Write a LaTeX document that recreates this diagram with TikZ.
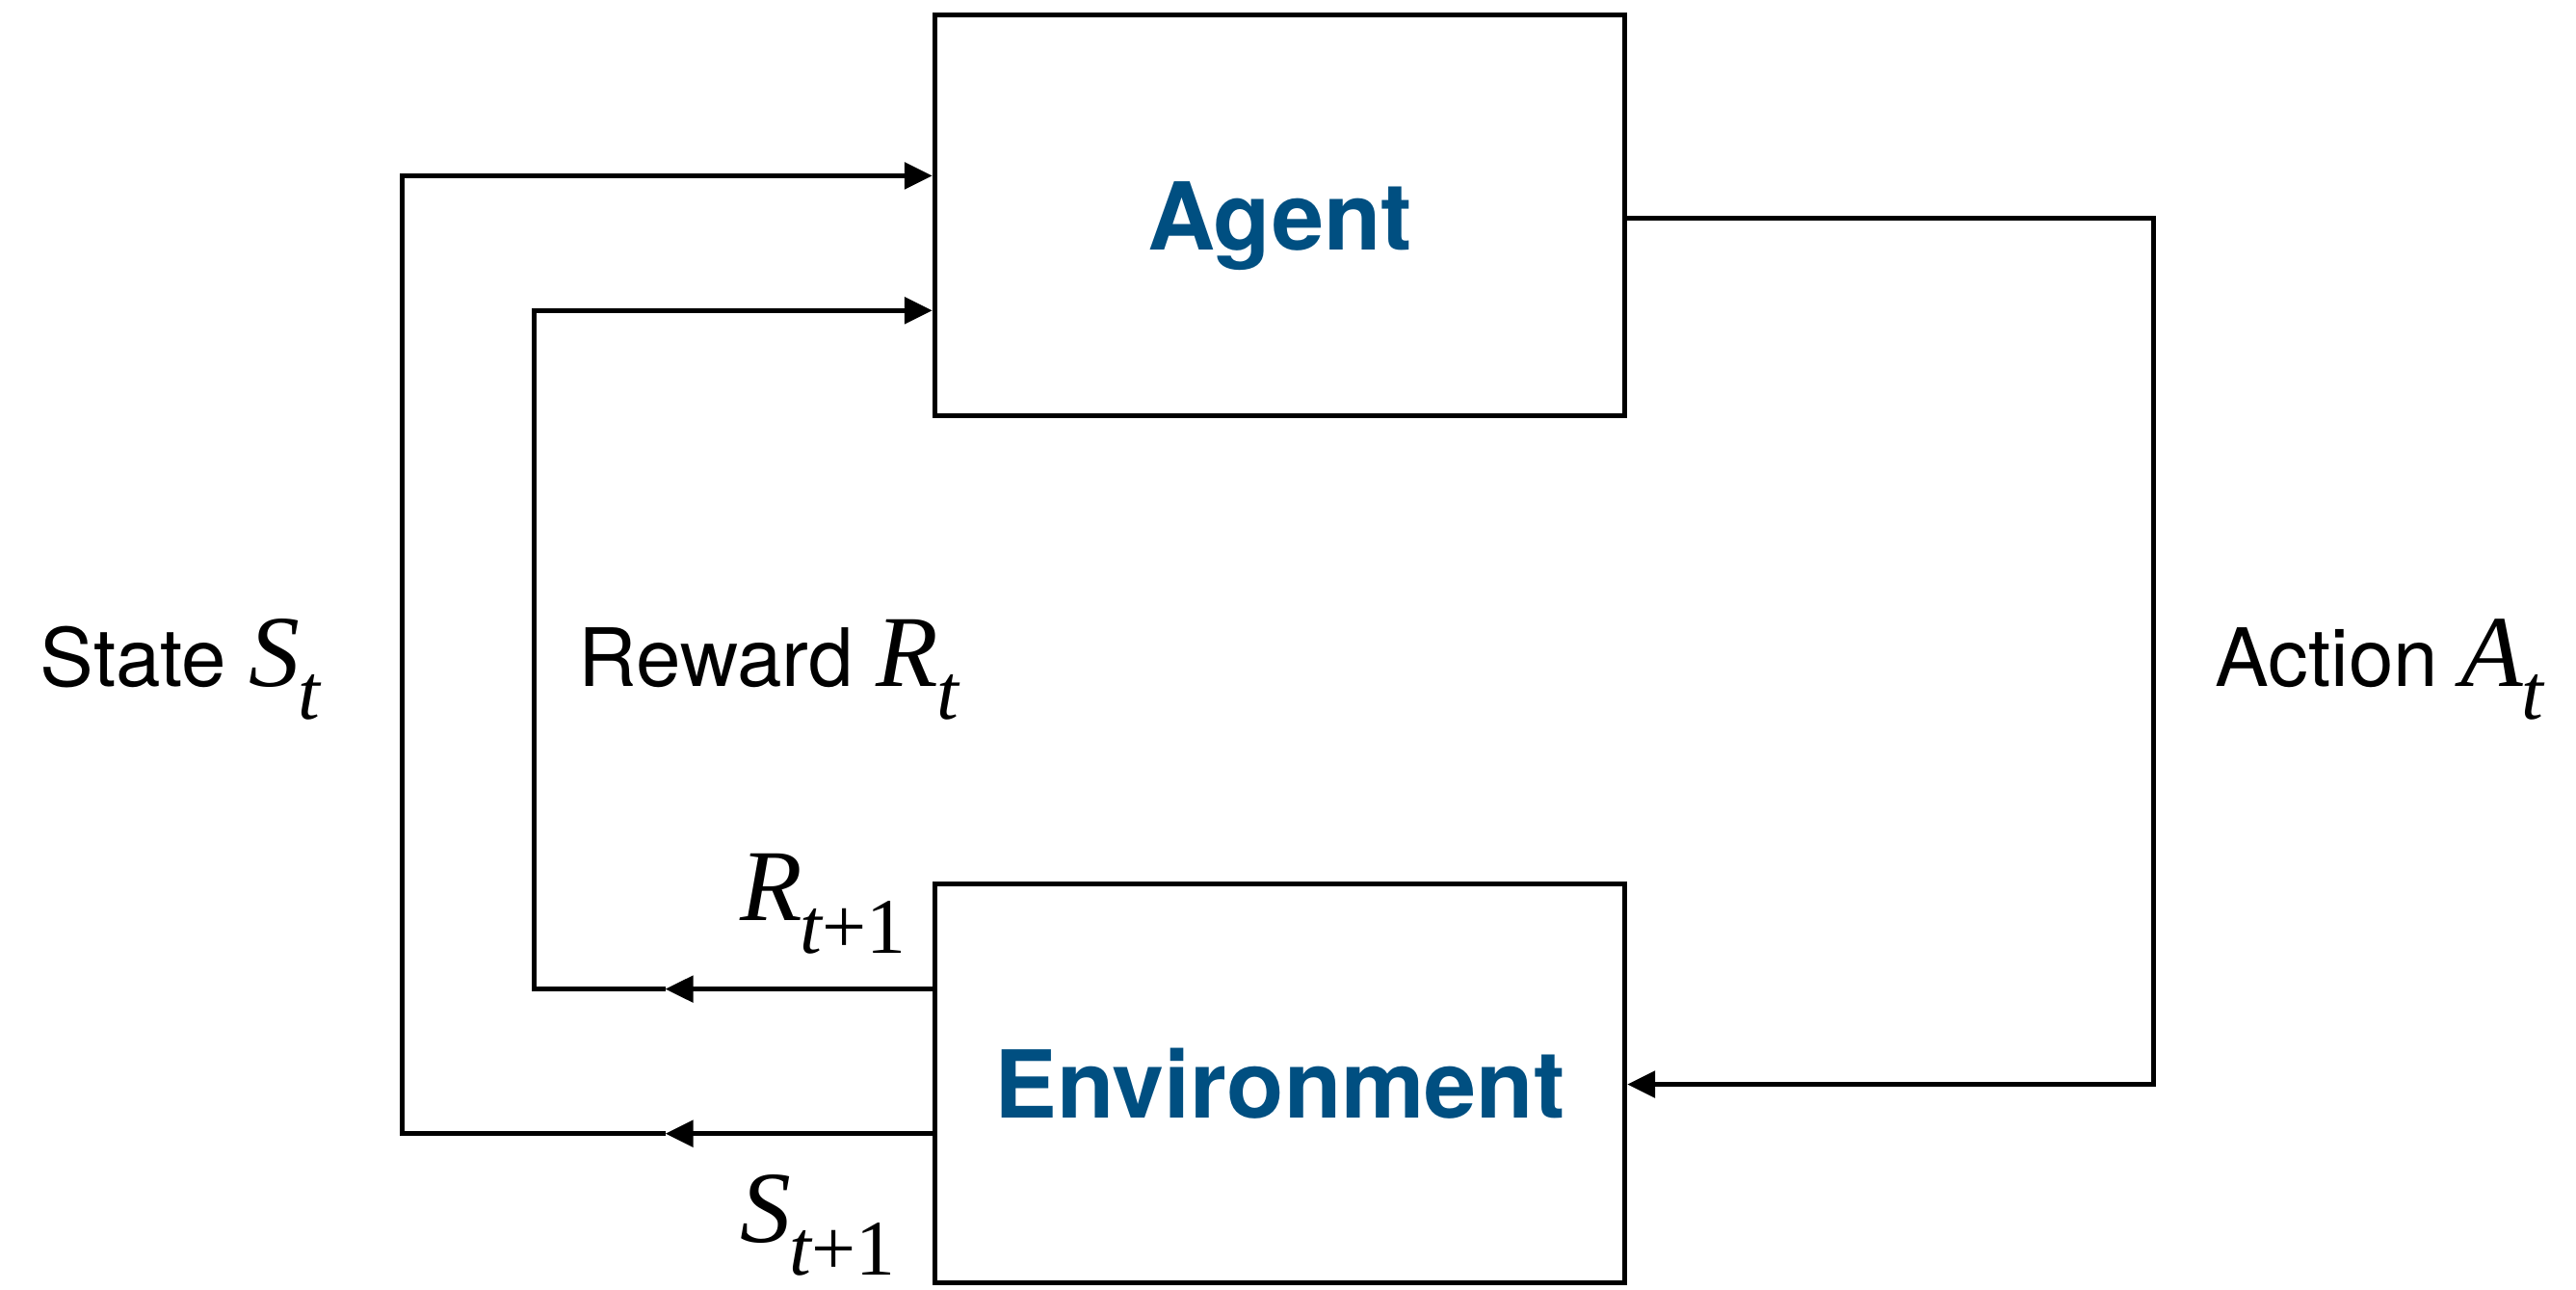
\documentclass[tikz,border=0pt]{standalone}
\usepackage{fontspec}
\setmainfont{TeX Gyre Heros}
\newfontfamily\tms{Liberation Serif}
\usetikzlibrary{arrows.meta}
\definecolor{boxblue}{RGB}{0,79,129}
\newcommand{\mv}[2]{{\tms\fontsize{31}{31}\selectfont\itshape #1}\kern-0.5pt\raisebox{-10pt}{\tms\fontsize{24}{24}\selectfont #2}}
\begin{document}
\begin{tikzpicture}[x=0.5pt,y=-0.5pt,
 box/.style={draw, line width=1.5pt, minimum width=210pt, minimum height=122pt, inner sep=0pt, text=boxblue, font=\fontsize{28.5}{28.5}\selectfont\bfseries},
 conn/.style={line width=1.4pt},
 tip/.style={-{Triangle[length=8.5pt,width=8pt]}},
 lbl/.style={inner sep=0pt, anchor=base west, font=\fontsize{24.5}{24.5}\selectfont}]
\useasboundingbox (0,0) rectangle (1568,784.6);
\node[box] (agent) at (779,131) {\raisebox{-10.5pt}[0pt][0pt]{Agent}};
\node[box, minimum height=121.5pt] (env) at (779,659.5) {Environment};
\coordinate (sTop) at (245,107);
\coordinate (sBot) at (245,690);
\coordinate (rTop) at (325,189);
\coordinate (rBot) at (325,602);
\coordinate (aTop) at (1311,133);
\coordinate (aBot) at (1311,660);
\coordinate (sMid) at (405,690);
\coordinate (rMid) at (405,602);
% state loop
\draw[conn,tip] (env.west |- sMid) -- (sMid);
\draw[conn,tip] (sMid) -- (sBot) -- (sTop) -- (agent.west |- sTop);
% reward loop
\draw[conn,tip] (env.west |- rMid) -- (rMid);
\draw[conn,tip] (rMid) -- (rBot) -- (rTop) -- (agent.west |- rTop);
% action
\draw[conn,tip] (agent.east |- aTop) -- (aTop) -- (aBot) -- (env.east |- aBot);
% labels
\node[lbl] (lstate) at (24,418) {State \mv{S}{\itshape t}};
\node[lbl] (lreward) at (352,418) {Reward \mv{R}{\itshape t}};
\node[lbl] (laction) at (1348,418) {Action \mv{A}{\itshape t}};
\node[lbl] (lr1) at (450,560) {\mv{R}{{\itshape t}+1}};
\node[lbl] (ls1) at (450,756) {\mv{S}{{\itshape t}+1}};
\end{tikzpicture}
\end{document}
